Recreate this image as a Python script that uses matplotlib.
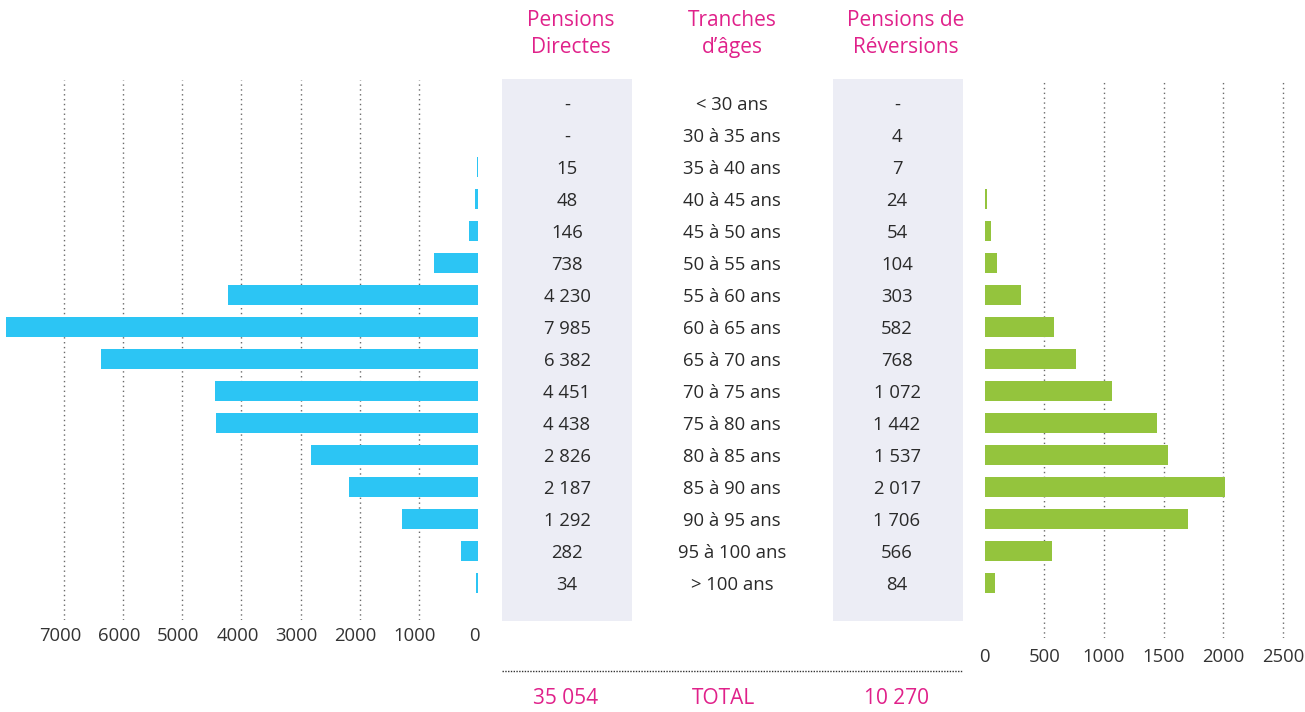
import numpy as np
import matplotlib
matplotlib.use("Agg")
import matplotlib.pyplot as plt
from matplotlib.patches import Rectangle
from matplotlib.transforms import ScaledTranslation

plt.rcParams['font.family'] = ['Open Sans', 'DejaVu Sans']

# ---------------- data ----------------
age_bands = ["< 30 ans", "30 à 35 ans", "35 à 40 ans", "40 à 45 ans", "45 à 50 ans",
             "50 à 55 ans", "55 à 60 ans", "60 à 65 ans", "65 à 70 ans", "70 à 75 ans",
             "75 à 80 ans", "80 à 85 ans", "85 à 90 ans", "90 à 95 ans", "95 à 100 ans",
             "> 100 ans"]
pensions_directes = [None, None, 15, 48, 146, 738, 4230, 7985, 6382, 4451,
                     4438, 2826, 2187, 1292, 282, 34]
pensions_reversion = [None, 4, 7, 24, 54, 104, 303, 582, 768, 1072,
                      1442, 1537, 2017, 1706, 566, 84]
total_directes = 35054
total_reversion = 10270
left_ticks = [7000, 6000, 5000, 4000, 3000, 2000, 1000, 0]
right_ticks = [0, 500, 1000, 1500, 2000, 2500]

header_directes = "Pensions\nDirectes"
header_ages = "Tranches\nd’âges"
header_reversion = "Pensions de\nRéversions"
total_label = "TOTAL"

# ---------------- style ----------------
BLUE = "#2cc5f4"
GREEN = "#94c43d"
MAGENTA = "#e0218a"
BAND = "#ecedf5"
TEXT = "#2a2a2a"
GRID = "#6a6a6a"

W, H = 1305, 712
fig = plt.figure(figsize=(W / 100, H / 100), dpi=100)


def ax_px(x0, y0, x1, y1):
    return fig.add_axes([x0 / W, 1 - y1 / H, (x1 - x0) / W, (y1 - y0) / H])


def row(py):
    # pixel row -> row index (row 0 centred at 103 px, 32 px per row)
    return (py - 103) / 32.0


def fmt(v):
    return "-" if v is None else f"{v:,}".replace(",", " ")


rows = np.arange(len(age_bands))
txt_shift = 2 / 32.0

# ---------------- overlay (table) ----------------
ov = ax_px(0, 0, W, H)
ov.set_xlim(0, W)
ov.set_ylim(row(H), row(0))
ov.axis("off")

for xc in (567, 898):
    ov.add_patch(Rectangle((xc - 65, row(79)), 130, row(621) - row(79),
                           facecolor=BAND, edgecolor="none", zorder=0))

col_d, col_a, col_r = 567, 732, 897
fs_num = 13.3
for i in rows:
    y = i + txt_shift
    ov.text(col_d, y, fmt(pensions_directes[i]), ha="center", va="center",
            fontsize=fs_num, color=TEXT)
    ov.text(col_a, y, age_bands[i], ha="center", va="center",
            fontsize=fs_num, color=TEXT)
    ov.text(col_r, y, fmt(pensions_reversion[i]), ha="center", va="center",
            fontsize=fs_num, color=TEXT)

fs_head = 15
for xc, txt in ((571, header_directes), (732, header_ages), (906, header_reversion)):
    ov.text(xc, row(34), txt, ha="center", va="center", fontsize=fs_head,
            color=MAGENTA, linespacing=1.4)

ov.plot([502, 963], [row(671), row(671)], color="#333333", lw=1,
        linestyle=(0, (1, 1)))
ov.text(566, row(699), fmt(total_directes), ha="center", va="center",
        fontsize=fs_head, color=MAGENTA)
ov.text(724, row(699), total_label, ha="center", va="center",
        fontsize=fs_head, color=MAGENTA)
ov.text(897, row(699), fmt(total_reversion), ha="center", va="center",
        fontsize=fs_head, color=MAGENTA)

# ---------------- left chart ----------------
axL = ax_px(0, 80, 478, 620)
scaleL = (478 - 64) / 7000.0
axL.set_xlim(478 / scaleL, 0)
axL.set_ylim(row(620), row(80))
d_idx = [i for i in rows if pensions_directes[i] is not None]
axL.barh(d_idx, [pensions_directes[i] for i in d_idx], height=0.625,
         color=BLUE, zorder=3)
for t in left_ticks:
    if t != 0:
        axL.axvline(t, color=GRID, lw=1, linestyle=(0, (1, 2.5)), zorder=1)
axL.set_xticks(left_ticks)
axL.set_xticklabels([str(t) for t in left_ticks])
axL.tick_params(axis="x", length=0, pad=5, labelsize=13.3, labelcolor="#333333")
offL = ScaledTranslation(-4 / 100, 0, fig.dpi_scale_trans)
for lab in axL.get_xticklabels():
    lab.set_transform(lab.get_transform() + offL)
axL.set_yticks([])
for s in axL.spines.values():
    s.set_visible(False)
axL.patch.set_alpha(0)

# ---------------- right chart ----------------
axR = ax_px(984.5, 80, 1300, 638)
scaleR = (1283 - 984.5) / 2500.0
axR.set_xlim(0, (1300 - 984.5) / scaleR)
axR.set_ylim(row(638), row(80))
r_idx = [i for i in rows if pensions_reversion[i] is not None]
axR.barh(r_idx, [pensions_reversion[i] for i in r_idx], height=0.625,
         color=GREEN, zorder=3)
for t in right_ticks:
    if t != 0:
        axR.axvline(t, color=GRID, lw=1, linestyle=(0, (1, 2.5)), zorder=1)
axR.set_xticks(right_ticks)
axR.set_xticklabels([str(t) for t in right_ticks])
axR.tick_params(axis="x", length=0, pad=7, labelsize=13.3, labelcolor="#333333")
axR.set_yticks([])
for s in axR.spines.values():
    s.set_visible(False)
axR.patch.set_alpha(0)

fig.savefig("out.png", dpi=100)
